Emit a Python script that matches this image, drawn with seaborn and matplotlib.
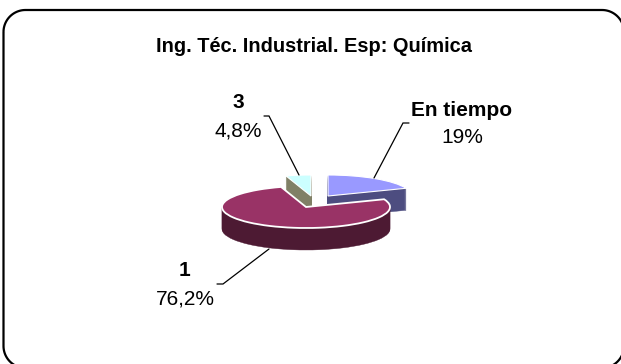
import matplotlib
matplotlib.use("Agg")
import matplotlib.pyplot as plt
import numpy as np
import seaborn as sns

# data
title_text = "Ing. Téc. Industrial. Esp: Química"
categories = ["En tiempo", "1", "3"]
shares = [19.0, 76.2, 4.8]
share_labels = ["19%", "76,2%", "4,8%"]

sns.set_theme(style="white")
plt.rcParams["font.family"] = ["Liberation Sans", "DejaVu Sans"]

W, H = 621, 364
top_colors = sns.color_palette(["#9999FF", "#993366", "#CCFFFF"])
side_colors = sns.color_palette(["#4D4D80", "#4D1A33", "#808066"])

fig = plt.figure(figsize=(W / 100, H / 100), dpi=100, facecolor="white")

# pie axes: one y-unit equals a quarter of a pixel, so the circle becomes a flat ellipse
SQUASH = 0.25
pie_ax = fig.add_axes([0, 0, 1, 1])
RX = 84
DEPTH = 22


def slice_at(idx, cx, py, color, edge=None, lw=0.0):
    wedges, _ = pie_ax.pie(
        shares, startangle=90, counterclock=False, radius=RX,
        center=(cx, (H - py) / SQUASH), colors=[color] * 3, normalize=True,
        wedgeprops={"edgecolor": edge if edge else color, "linewidth": lw},
    )
    for i, w in enumerate(wedges):
        if i != idx:
            w.remove()


def solid(idx, cx, py, edge_lw):
    for d in range(DEPTH, 0, -1):
        slice_at(idx, cx, py + d, side_colors[idx], lw=0.3)
    slice_at(idx, cx, py, top_colors[idx], edge="white", lw=edge_lw)


solid(0, 328, 196, 0.8)
solid(2, 311, 196, 0.8)
solid(1, 306, 207, 1.3)

pie_ax.set_aspect("auto")
pie_ax.set_xlim(0, W)
pie_ax.set_ylim(0, H / SQUASH)
pie_ax.set_axis_off()

# overlay in pixel coordinates
ov = fig.add_axes([0, 0, 1, 1], facecolor="none")
ov.set_xlim(0, W)
ov.set_ylim(H, 0)
ov.set_axis_off()


def rounded_outline(x0, y0, x1, y1, r, n=24):
    t = np.linspace(0, np.pi / 2, n)
    xs, ys = [], []
    corners = [
        (x0 + r, y0 + r, np.pi),
        (x1 - r, y0 + r, 1.5 * np.pi),
        (x1 - r, y1 - r, 0.0),
        (x0 + r, y1 - r, 0.5 * np.pi),
    ]
    for cx, cy, a in corners:
        xs.extend(cx + r * np.cos(a + t))
        ys.extend(cy + r * np.sin(a + t))
    xs.append(xs[0])
    ys.append(ys[0])
    return xs, ys


bx, by = rounded_outline(3.5, 10, 624, 368, 22)
ov.plot(bx, by, color="black", lw=1.6, solid_capstyle="butt", solid_joinstyle="round")

ov.text(314, 47, title_text, ha="center", va="center", fontsize=14.4,
        fontweight="bold", color="black")

name_pos = [(462, 111), (185, 271), (238, 103)]
pct_pos = [(462, 137.5), (185.5, 299), (238, 131)]
leaders = [
    ([409, 403, 374], [123, 123, 178]),
    ([217, 223, 269], [284, 284, 249]),
    ([264, 269, 299], [116, 116, 175]),
]
for name, pct, np_, pp, (lx, ly) in zip(categories, share_labels, name_pos, pct_pos, leaders):
    ov.text(np_[0], np_[1], name, ha="center", va="center", fontsize=15,
            fontweight="bold", color="black")
    ov.text(pp[0], pp[1], pct, ha="center", va="center", fontsize=15, color="black")
    ov.plot(lx, ly, color="black", lw=0.9, solid_joinstyle="miter")

fig.savefig("out.png", dpi=100, facecolor="white")
